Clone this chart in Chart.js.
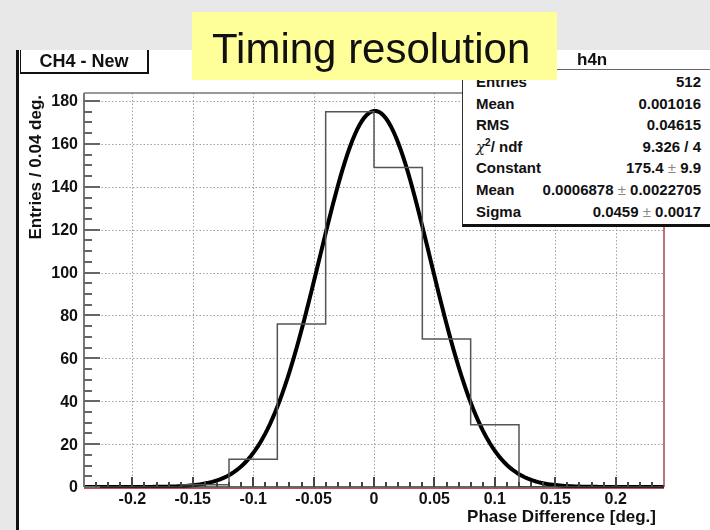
<!DOCTYPE html>
<html>
<head>
<meta charset="utf-8">
<title>Timing resolution</title>
<script src="https://cdn.jsdelivr.net/npm/chart.js@4.4.1/dist/chart.umd.min.js"></script>
<style>
    html, body { margin: 0; padding: 0; }
    body {
        width: 710px; height: 530px; position: relative; overflow: hidden;
        background: #e8e8e8;
        font-family: "Liberation Sans", Arial, Helvetica, sans-serif;
        color: #111;
    }
    .pad { position: absolute; left: 19px; top: 50px; width: 691px; height: 480px; background: #fff; }
    .edge { position: absolute; left: 16px; top: 50px; width: 3px; height: 480px; background: #111; }
    #plot { position: absolute; left: 0; top: 0; }

    .stats {
        position: absolute; left: 462px; top: 58px; width: 247px;
        padding-top: 13px; height: 153px;
        background: #fff; border-left: 1px solid #333; border-bottom: 3px solid #111;
        font-weight: bold; font-size: 15px;
    }
    .stats .row { display: flex; justify-content: space-between; height: 21.6px; line-height: 21.6px; padding: 0 9px 0 13px; white-space: nowrap; }
    .stats .pm { color: #888; font-weight: normal; }
    .stats sup { font-size: 10px; line-height: 0; }
    .stats .chi { font-family: "DejaVu Serif", serif; font-style: italic; font-weight: normal; }

    .hist-title {
        position: absolute; left: 440px; top: 50px; width: 270px; height: 19px;
        background: #fff; border-bottom: 1.5px solid #666;
    }
    .hist-title span { position: absolute; left: 137px; top: 0; line-height: 19px; font-size: 17px; font-weight: bold; }

    .banner { position: absolute; left: 192px; top: 12px; width: 365px; height: 68px; background: #ffff99; }
    .banner span { position: absolute; left: 20px; top: 16px; line-height: 42px; font-size: 42px; white-space: nowrap; }

    .pad-label {
        position: absolute; left: 20px; top: 50px; width: 126px; height: 22px;
        background: #fff; border-left: 1px solid #111; border-right: 2px solid #111; border-bottom: 2px solid #111;
        text-align: center; line-height: 22px; font-size: 18px; font-weight: bold;
    }
</style>
</head>
<body>
<div class="pad"></div>
<div class="edge"></div>
<canvas id="plot" width="710" height="530"></canvas>
<div class="stats" id="stats"></div>
<div class="hist-title"><span>h4n</span></div>
<div class="banner"><span>Timing resolution</span></div>
<div class="pad-label">CH4 - New</div>

<script>
// Histogram h4n: 12 bins of 0.04 deg
const binEdges = [-0.24, -0.20, -0.16, -0.12, -0.08, -0.04, 0, 0.04, 0.08, 0.12, 0.16, 0.20, 0.24];
const binCounts = [0, 0, 1, 13, 76, 175, 149, 69, 29, 0, 0, 0];

// Gaussian fit parameters
const fitConstant = 175.4;
const fitMean = 0.0006878;
const fitSigma = 0.0459;

// Axes
const xMin = -0.24, xMax = 0.24;
const yMin = 0, yMax = 183.75;
const xTickValues = [-0.2, -0.15, -0.1, -0.05, 0, 0.05, 0.1, 0.15, 0.2];
const xTickLabels = ['-0.2', '-0.15', '-0.1', '-0.05', '0', '0.05', '0.1', '0.15', '0.2'];
const yTickValues = [0, 20, 40, 60, 80, 100, 120, 140, 160, 180];
const yTickLabels = ['0', '20', '40', '60', '80', '100', '120', '140', '160', '180'];

// Stats box
const statNames = ['Entries', 'Mean', 'RMS', 'χ2/ ndf', 'Constant', 'Mean', 'Sigma'];
const statValues = ['512', '0.001016', '0.04615', '9.326 / 4', '175.4 ± 9.9', '0.0006878 ± 0.0022705', '0.0459 ± 0.0017'];

const statsBox = document.getElementById('stats');
statNames.forEach((name, i) => {
    const row = document.createElement('div');
    row.className = 'row';
    const left = document.createElement('span');
    if (name.startsWith('χ2')) {
        left.innerHTML = '<span class="chi">χ</span><sup>2</sup>/ ndf';
    } else {
        left.textContent = name;
    }
    const right = document.createElement('span');
    right.innerHTML = statValues[i].replace('±', '<span class="pm">±</span>');
    row.appendChild(left);
    row.appendChild(right);
    statsBox.appendChild(row);
});

// step outline: each bin's value held from its low edge to the next edge
const histPoints = binCounts.map((c, i) => ({ x: binEdges[i], y: c }));
histPoints.push({ x: binEdges[binEdges.length - 1], y: 0 });

// fit function evaluated across the histogram range
const fitPoints = [];
for (let i = 0; i <= 240; i++) {
    const x = xMin + (xMax - xMin) * i / 240;
    const t = (x - fitMean) / fitSigma;
    fitPoints.push({ x: x, y: fitConstant * Math.exp(-0.5 * t * t) });
}

const labelFont = 'bold 16px "Liberation Sans", Arial, sans-serif';
const titleFont = 'bold 17px "Liberation Sans", Arial, sans-serif';

// Frame, ticks, dotted grid and labels drawn in the ROOT style
const rootAxes = {
    id: 'rootAxes',
    beforeDatasetsDraw(chart) {
        const { ctx, chartArea: a, scales: { x, y } } = chart;
        ctx.save();
        ctx.strokeStyle = '#a0a0a0';
        ctx.lineWidth = 1;
        ctx.setLineDash([1.5, 2]);
        xTickValues.forEach(v => {
            const px = Math.round(x.getPixelForValue(v)) + 0.5;
            ctx.beginPath();
            ctx.moveTo(px, a.top);
            ctx.lineTo(px, a.bottom);
            ctx.stroke();
        });
        yTickValues.filter(v => v > 0).forEach(v => {
            const py = Math.round(y.getPixelForValue(v)) + 0.5;
            ctx.beginPath();
            ctx.moveTo(a.left, py);
            ctx.lineTo(a.right, py);
            ctx.stroke();
        });
        ctx.restore();
    },
    afterDatasetsDraw(chart) {
        const { ctx, chartArea: a, scales: { x, y } } = chart;
        ctx.save();
        ctx.setLineDash([]);

        // frame
        ctx.lineWidth = 1.5;
        ctx.strokeStyle = '#777';
        ctx.beginPath(); ctx.moveTo(a.left, a.top); ctx.lineTo(a.right, a.top); ctx.stroke();
        ctx.strokeStyle = '#a04848';
        ctx.beginPath(); ctx.moveTo(a.right, a.top); ctx.lineTo(a.right, a.bottom); ctx.stroke();
        ctx.strokeStyle = '#cc4b4b';
        ctx.lineWidth = 1;
        ctx.beginPath(); ctx.moveTo(a.left, a.bottom + 1.5); ctx.lineTo(a.right, a.bottom + 1.5); ctx.stroke();
        ctx.strokeStyle = '#333';
        ctx.lineWidth = 1.5;
        ctx.beginPath(); ctx.moveTo(a.left, a.bottom); ctx.lineTo(a.right, a.bottom); ctx.stroke();
        ctx.strokeStyle = '#777';
        ctx.lineWidth = 2;
        ctx.beginPath(); ctx.moveTo(a.left, a.top); ctx.lineTo(a.left, a.bottom); ctx.stroke();

        // y ticks: major every 20, minor every 5
        ctx.strokeStyle = '#666';
        ctx.lineWidth = 2;
        for (let v = 0; v <= yMax; v += 5) {
            const py = Math.round(y.getPixelForValue(v));
            const len = v % 20 === 0 ? 16 : 8;
            ctx.beginPath(); ctx.moveTo(a.left, py); ctx.lineTo(a.left + len, py); ctx.stroke();
        }

        // x ticks: major every 0.05, minor every 0.01
        ctx.strokeStyle = '#444';
        for (let i = -23; i <= 23; i++) {
            const px = Math.round(x.getPixelForValue(i / 100));
            const len = i % 5 === 0 ? 10 : 5;
            ctx.beginPath(); ctx.moveTo(px, a.bottom); ctx.lineTo(px, a.bottom - len); ctx.stroke();
        }

        // tick labels
        ctx.fillStyle = '#111';
        ctx.font = labelFont;
        ctx.textAlign = 'right';
        ctx.textBaseline = 'middle';
        yTickValues.forEach((v, i) => {
            ctx.fillText(yTickLabels[i], a.left - 6, y.getPixelForValue(v) + 1);
        });
        ctx.textAlign = 'center';
        xTickValues.forEach((v, i) => {
            ctx.fillText(xTickLabels[i], x.getPixelForValue(v), a.bottom + 13);
        });

        // axis titles
        ctx.font = titleFont;
        ctx.textAlign = 'right';
        ctx.fillText('Phase Difference [deg.]', a.right - 8, a.bottom + 30);
        ctx.translate(36, a.top + 2);
        ctx.rotate(-Math.PI / 2);
        ctx.textAlign = 'right';
        ctx.fillText('Entries / 0.04 deg.', 0, 0);
        ctx.restore();
    }
};

const ctx = document.getElementById('plot').getContext('2d');
const chart = new Chart(ctx, {
    type: 'line',
    data: {
        datasets: [{
            label: 'h4n',
            data: histPoints,
            stepped: true,
            borderColor: '#555',
            borderWidth: 1.5,
            pointRadius: 0,
            fill: false
        }, {
            label: 'gaus',
            data: fitPoints,
            borderColor: '#000',
            borderWidth: 4,
            pointRadius: 0,
            tension: 0,
            fill: false,
            clip: { left: 0, top: 0, right: 0, bottom: 2 }
        }]
    },
    options: {
        responsive: false,
        animation: false,
        devicePixelRatio: 1,
        layout: {
            padding: { left: 84, top: 93, right: 46, bottom: 43 }
        },
        scales: {
            x: { type: 'linear', min: xMin, max: xMax, display: false },
            y: { type: 'linear', min: yMin, max: yMax, display: false }
        },
        plugins: {
            legend: { display: false },
            tooltip: { enabled: false }
        }
    },
    plugins: [rootAxes]
});
</script>
</body>
</html>
